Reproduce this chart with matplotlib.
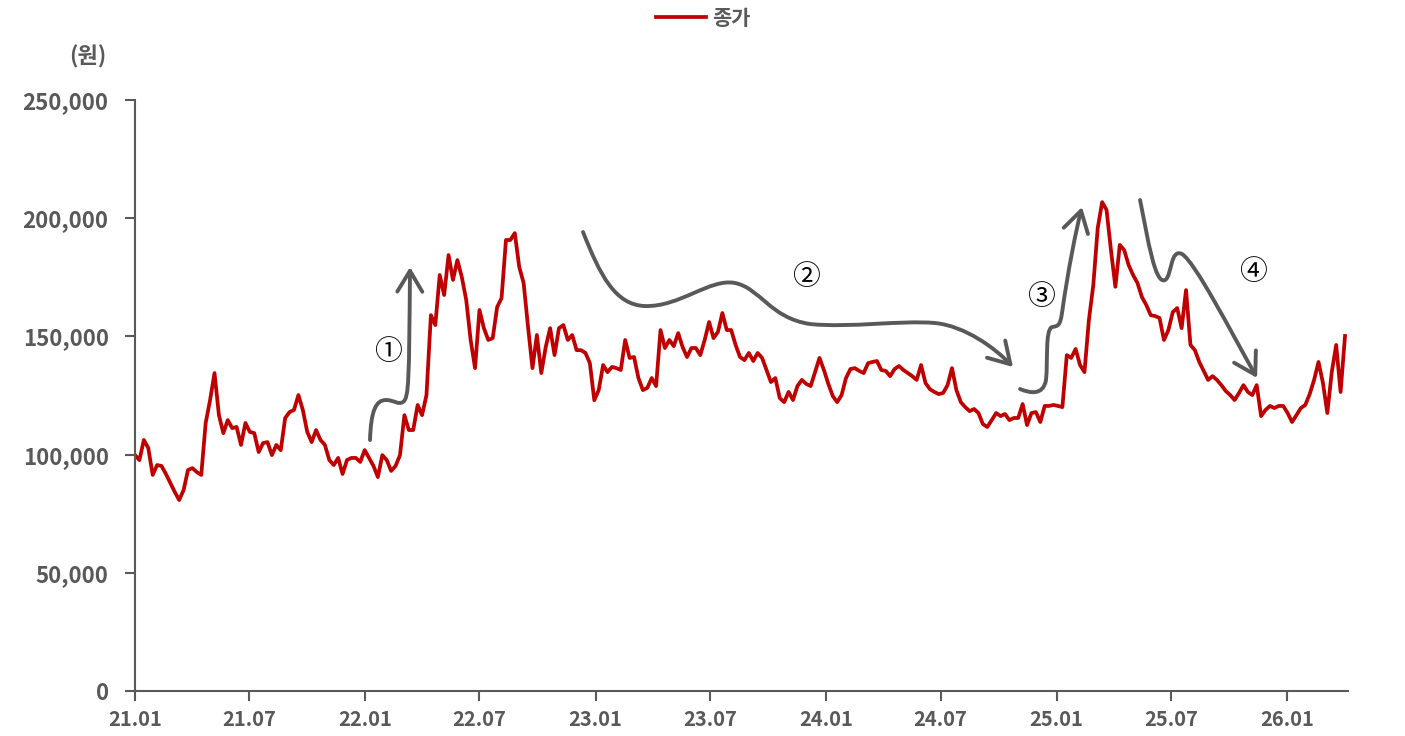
import matplotlib
matplotlib.use('Agg')
import matplotlib.pyplot as plt
import matplotlib.ticker as mticker
from matplotlib.path import Path
from matplotlib.patches import FancyArrowPatch
import pandas as pd

plt.rcParams['font.family'] = ['Noto Sans CJK KR', 'DejaVu Sans']

# weekly closing price (won), one value per Friday from 2021-01-01
start_date = '2021-01-01'
close = [
    99800, 97700, 106200, 102800, 91400, 95600, 95200, 91800, 88000, 84200,
    80800, 85000, 93500, 94300, 92600, 91400, 113400, 123100, 134500, 116700,
    109100, 114600, 111200, 111700, 104100, 113400, 109600, 109100, 101100, 104900,
    105300, 99800, 104100, 101900, 115500, 118000, 118900, 125200, 118900, 109600,
    105300, 110400, 106200, 104100, 97700, 95600, 98600, 91800, 97700, 98600,
    98600, 96900, 101900, 98600, 95200, 90500, 99800, 97700, 93100, 95200,
    99800, 116700, 110400, 110400, 121000, 116700, 125200, 159000, 154800, 176000,
    167500, 184400, 173900, 182300, 175100, 165400, 148500, 136600, 161200, 153500,
    148500, 149300, 162400, 166200, 190800, 190800, 193700, 179400, 172600, 154000,
    136600, 150600, 134500, 145500, 153500, 142100, 153500, 154800, 148500, 150600,
    144200, 144200, 143000, 138700, 123000, 127300, 137900, 134900, 137100, 136600,
    135800, 148500, 140900, 141300, 132400, 127300, 128200, 132400, 129000, 152700,
    145100, 148500, 145900, 151400, 145500, 141300, 145100, 145100, 142100, 148500,
    156100, 149300, 151900, 159900, 152700, 152700, 146400, 141300, 140000, 143000,
    139600, 143000, 140900, 135800, 130700, 132400, 123900, 122200, 126500, 123100,
    129000, 131600, 129900, 129000, 134900, 140900, 135800, 129900, 124800, 122200,
    125200, 132400, 136200, 136600, 135400, 134500, 138700, 139200, 139600, 135800,
    135400, 133200, 136200, 137500, 135800, 134500, 133200, 131600, 137900, 130300,
    127700, 126500, 125600, 126100, 129400, 136600, 127300, 122200, 120100, 118400,
    119300, 117600, 112900, 111700, 114600, 117600, 116300, 117200, 114600, 115500,
    115500, 121400, 112500, 117600, 118000, 113800, 120600, 120600, 121000, 120600,
    120100, 142100, 140900, 144700, 137900, 134900, 156900, 171700, 195800, 206800,
    203500, 186500, 171000, 188700, 186500, 180200, 176000, 172600, 166700, 163300,
    159000, 158600, 157800, 148500, 152700, 160300, 162000, 153500, 169600, 146400,
    144200, 139200, 135400, 131600, 133200, 131600, 129400, 126900, 125200, 123100,
    126100, 129400, 126500, 125200, 129400, 116300, 118900, 120600, 119700, 120600,
    120600, 117600, 113800, 116700, 119700, 121000, 125600, 131600, 139200, 130300,
    117600, 134900, 146400, 126500, 150200,
]
dates = pd.date_range(start_date, periods=len(close), freq='7D')

y_ticks = [0, 50000, 100000, 150000, 200000, 250000]
x_ticks = pd.date_range('2021-01-01', '2026-01-01', freq='6MS')
x_tick_labels = [d.strftime('%y.%m') for d in x_ticks]

line_color = '#C00000'
gray = '#595959'

fig = plt.figure(figsize=(14.05, 7.36), dpi=100)
ax = fig.add_axes([0.0961, 0.0611, 0.8630, 0.8030])

ax.plot(dates, close, color=line_color, lw=2.7, label='종가', solid_joinstyle='round')

ax.set_ylim(0, 250000)
ax.set_xlim(pd.Timestamp('2021-01-01'), pd.Timestamp('2026-04-07'))
ax.set_yticks(y_ticks)
ax.yaxis.set_major_formatter(mticker.FuncFormatter(lambda v, p: f'{int(v):,}'))
ax.set_xticks(x_ticks)
ax.set_xticklabels(x_tick_labels)

for side in ['top', 'right']:
    ax.spines[side].set_visible(False)
for side in ['left', 'bottom']:
    ax.spines[side].set_color(gray)
    ax.spines[side].set_linewidth(1.5)

ax.tick_params(axis='y', length=7, width=1.5, color=gray, pad=12,
               labelsize=16, labelcolor=gray)
ax.tick_params(axis='x', length=7, width=1.5, color=gray, pad=6,
               labelsize=14.5, labelcolor=gray)
for lab in ax.get_yticklabels() + ax.get_xticklabels():
    lab.set_fontweight('bold')

fig.text(0.0626, 0.9226, '(원)', ha='center', va='center', fontsize=16,
         fontweight='bold', color=gray)

ax.legend(loc='center', bbox_to_anchor=(0.5004, 0.9755), bbox_transform=fig.transFigure,
          frameon=False, handlelength=2.4, handletextpad=0.3,
          prop={'size': 15, 'weight': 'bold'}, labelcolor=gray)

# trend arrows drawn as cubic bezier paths in axes coordinates
C4 = Path.CURVE4
arrows = [
    [(0.1938, 0.4247),
     (0.1946, 0.4755), (0.1988, 0.4924), (0.2070, 0.4924),
     (0.2136, 0.4924), (0.2169, 0.4839), (0.2210, 0.4890),
     (0.2260, 0.4958), (0.2260, 0.5262), (0.2268, 0.7174)],
    [(0.3695, 0.7766),
     (0.3835, 0.7039), (0.3959, 0.6531), (0.4206, 0.6514),
     (0.4495, 0.6497), (0.4742, 0.6988), (0.4948, 0.6904),
     (0.5155, 0.6819), (0.5237, 0.6311), (0.5567, 0.6210),
     (0.5897, 0.6142), (0.6309, 0.6277), (0.6598, 0.6227),
     (0.6845, 0.6176), (0.7093, 0.5804), (0.7241, 0.5482)],
    [(0.7299, 0.5110),
     (0.7381, 0.5042), (0.7489, 0.4992), (0.7513, 0.5262),
     (0.7530, 0.5601), (0.7505, 0.6108), (0.7563, 0.6159),
     (0.7612, 0.6176), (0.7629, 0.6176), (0.7645, 0.6396),
     (0.7695, 0.7124), (0.7761, 0.7800), (0.7810, 0.8190)],
    [(0.8289, 0.8308),
     (0.8355, 0.7631), (0.8412, 0.6870), (0.8495, 0.6954),
     (0.8553, 0.7022), (0.8536, 0.7496), (0.8635, 0.7394),
     (0.8742, 0.7259), (0.9031, 0.6108), (0.9254, 0.5296)],
]
for verts in arrows:
    codes = [Path.MOVETO] + [C4] * (len(verts) - 1)
    arr = FancyArrowPatch(path=Path(verts, codes), transform=ax.transAxes,
                          arrowstyle='->,head_length=0.75,head_width=0.45',
                          mutation_scale=20, color=gray, lw=2.8,
                          capstyle='round', joinstyle='round')
    ax.add_patch(arr)

step_labels = ['①', '②', '③', '④']
step_pos = [(0.2087, 0.5736), (0.5534, 0.7005), (0.7472, 0.6667), (0.9221, 0.7090)]
for lab, (sx, sy) in zip(step_labels, step_pos):
    ax.text(sx, sy, lab, transform=ax.transAxes, ha='center', va='center',
            fontsize=20, color='black')

fig.savefig('out.png', dpi=100)
